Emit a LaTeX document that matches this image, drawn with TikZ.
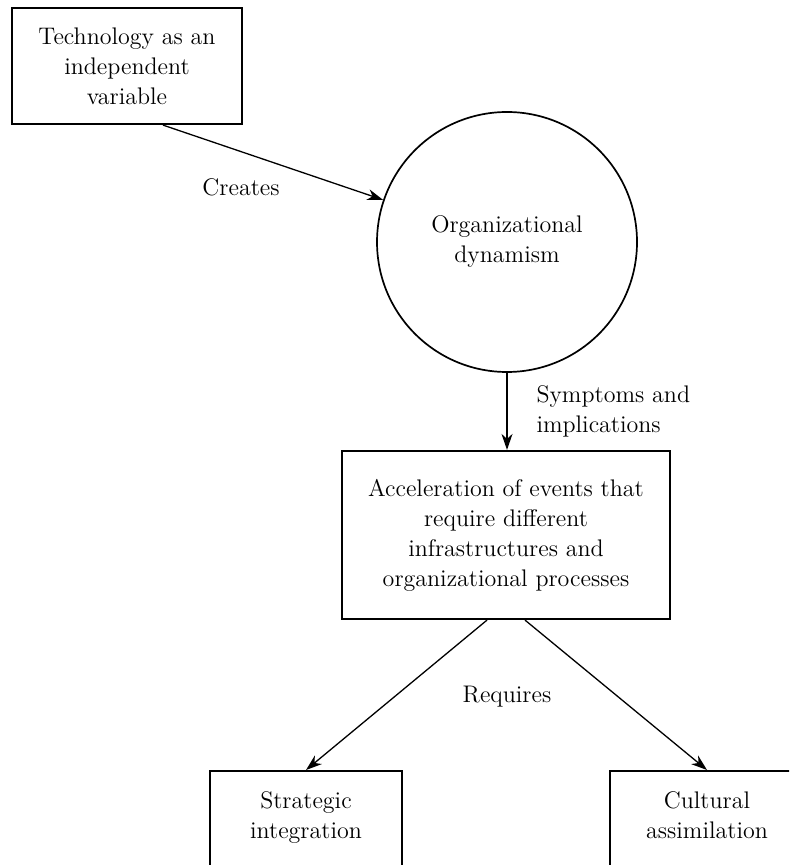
\documentclass[tikz,border=0pt]{standalone}
\usepackage{tikz}
\usetikzlibrary{arrows.meta}

\begin{document}
\begin{tikzpicture}[x=0.5pt, y=-0.5pt,
  every node/.style={font=\fontsize{12}{15}\selectfont},
  box/.style={draw, line width=1.1pt, align=center},
  arrow/.style={-{Stealth[length=8pt, width=5.5pt, inset=2.5pt]}, line width=0.65pt}]
  \useasboundingbox (0,0) rectangle (789,865);
  \clip (0,0) rectangle (789,865);

  % Nodes
  \node[box, minimum width=115pt, minimum height=58pt] (tech) at (127,66) {Technology as an\\independent\\variable};
  \node[draw, circle, line width=0.85pt, minimum size=130pt, inner sep=0pt, align=center] (org) at (507,242) {Organizational\\dynamism};
  \node[box, minimum width=164pt, minimum height=84pt] (accel) at (506,535) {Acceleration of events that\\require different\\infrastructures and\\organizational processes};
  \node[box, anchor=north, minimum width=96pt, inner ysep=10pt, text depth=70pt] (strat) at (306,770) {Strategic\\integration};
  \node[box, anchor=north, minimum width=97pt, inner ysep=10pt, text depth=70pt] (cult) at (707,770) {Cultural\\assimilation};
  \node (req) at (507,697) {Requires};

  % Edges
  \draw[arrow] ([xshift=18pt]tech.south) -- (org) node[midway, xshift=-16pt, yshift=-12.5pt] {Creates};
  \draw[arrow, line width=0.85pt] (org.south) -- (org.south |- accel.north) node[midway, right=11pt, align=left] {Symptoms and\\implications};
  \draw[arrow] ([xshift=-9.5pt]accel.south) -- (strat.north);
  \draw[arrow] ([xshift=9.5pt]accel.south) -- (cult.north);
\end{tikzpicture}
\end{document}
